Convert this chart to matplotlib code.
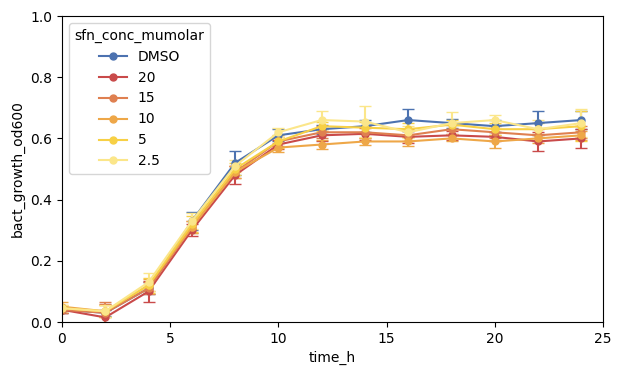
import matplotlib.pyplot as plt

time_h = [0, 2, 4, 6, 8, 10, 12, 14, 16, 18, 20, 22, 24]
labels = ["DMSO", "20", "15", "10", "5", "2.5"]
colors = ["#4c72b0", "#c94a4a", "#df8050", "#eea748", "#f7d045", "#fbe68a"]

od_dmso = [0.040, 0.030, 0.110, 0.330, 0.520, 0.610, 0.630, 0.640, 0.660, 0.650, 0.640, 0.650, 0.660]
od_20 = [0.040, 0.015, 0.100, 0.300, 0.480, 0.580, 0.610, 0.615, 0.605, 0.610, 0.605, 0.590, 0.600]
od_15 = [0.040, 0.030, 0.110, 0.310, 0.490, 0.590, 0.620, 0.620, 0.610, 0.630, 0.620, 0.610, 0.620]
od_10 = [0.050, 0.035, 0.120, 0.310, 0.490, 0.570, 0.580, 0.590, 0.590, 0.600, 0.590, 0.600, 0.610]
od_5 = [0.045, 0.035, 0.120, 0.320, 0.500, 0.590, 0.640, 0.635, 0.630, 0.645, 0.630, 0.630, 0.640]
od_2_5 = [0.045, 0.035, 0.130, 0.330, 0.510, 0.620, 0.660, 0.655, 0.620, 0.650, 0.660, 0.630, 0.650]

err_dmso = [0.010, 0.010, 0.020, 0.030, 0.040, 0.020, 0.015, 0.020, 0.035, 0.015, 0.020, 0.040, 0.030]
err_20 = [0.010, 0.045, 0.035, 0.020, 0.030, 0.015, 0.020, 0.020, 0.020, 0.015, 0.015, 0.030, 0.030]
err_15 = [0.010, 0.035, 0.020, 0.020, 0.020, 0.015, 0.020, 0.020, 0.020, 0.015, 0.020, 0.020, 0.020]
err_10 = [0.015, 0.020, 0.020, 0.020, 0.020, 0.015, 0.015, 0.010, 0.015, 0.010, 0.020, 0.015, 0.015]
err_5 = [0.010, 0.020, 0.025, 0.025, 0.020, 0.020, 0.015, 0.020, 0.020, 0.015, 0.020, 0.020, 0.050]
err_2_5 = [0.010, 0.020, 0.030, 0.025, 0.020, 0.015, 0.030, 0.050, 0.020, 0.035, 0.015, 0.030, 0.045]

series = [od_dmso, od_20, od_15, od_10, od_5, od_2_5]
errors = [err_dmso, err_20, err_15, err_10, err_5, err_2_5]

fig = plt.figure(figsize=(6.22, 3.76), dpi=100)
ax = fig.add_axes([62 / 622, 1 - 322 / 376, (603 - 62) / 622, (322 - 16) / 376])

for lab, col, y, e in zip(labels, colors, series, errors):
    ax.errorbar(time_h, y, yerr=e, color=col, marker="o", markersize=5,
                linewidth=1.5, capsize=4, elinewidth=1.5, label=lab)

ax.set_xlim(0, 25)
ax.set_ylim(0, 1.0)
ax.set_xlabel("time_h")
ax.set_ylabel("bact_growth_od600")

handles, lbls = ax.get_legend_handles_labels()
handles = [h[0] for h in handles]
ax.legend(handles, lbls, title="sfn_conc_mumolar", loc="upper left")

fig.savefig("out.png", dpi=100)
